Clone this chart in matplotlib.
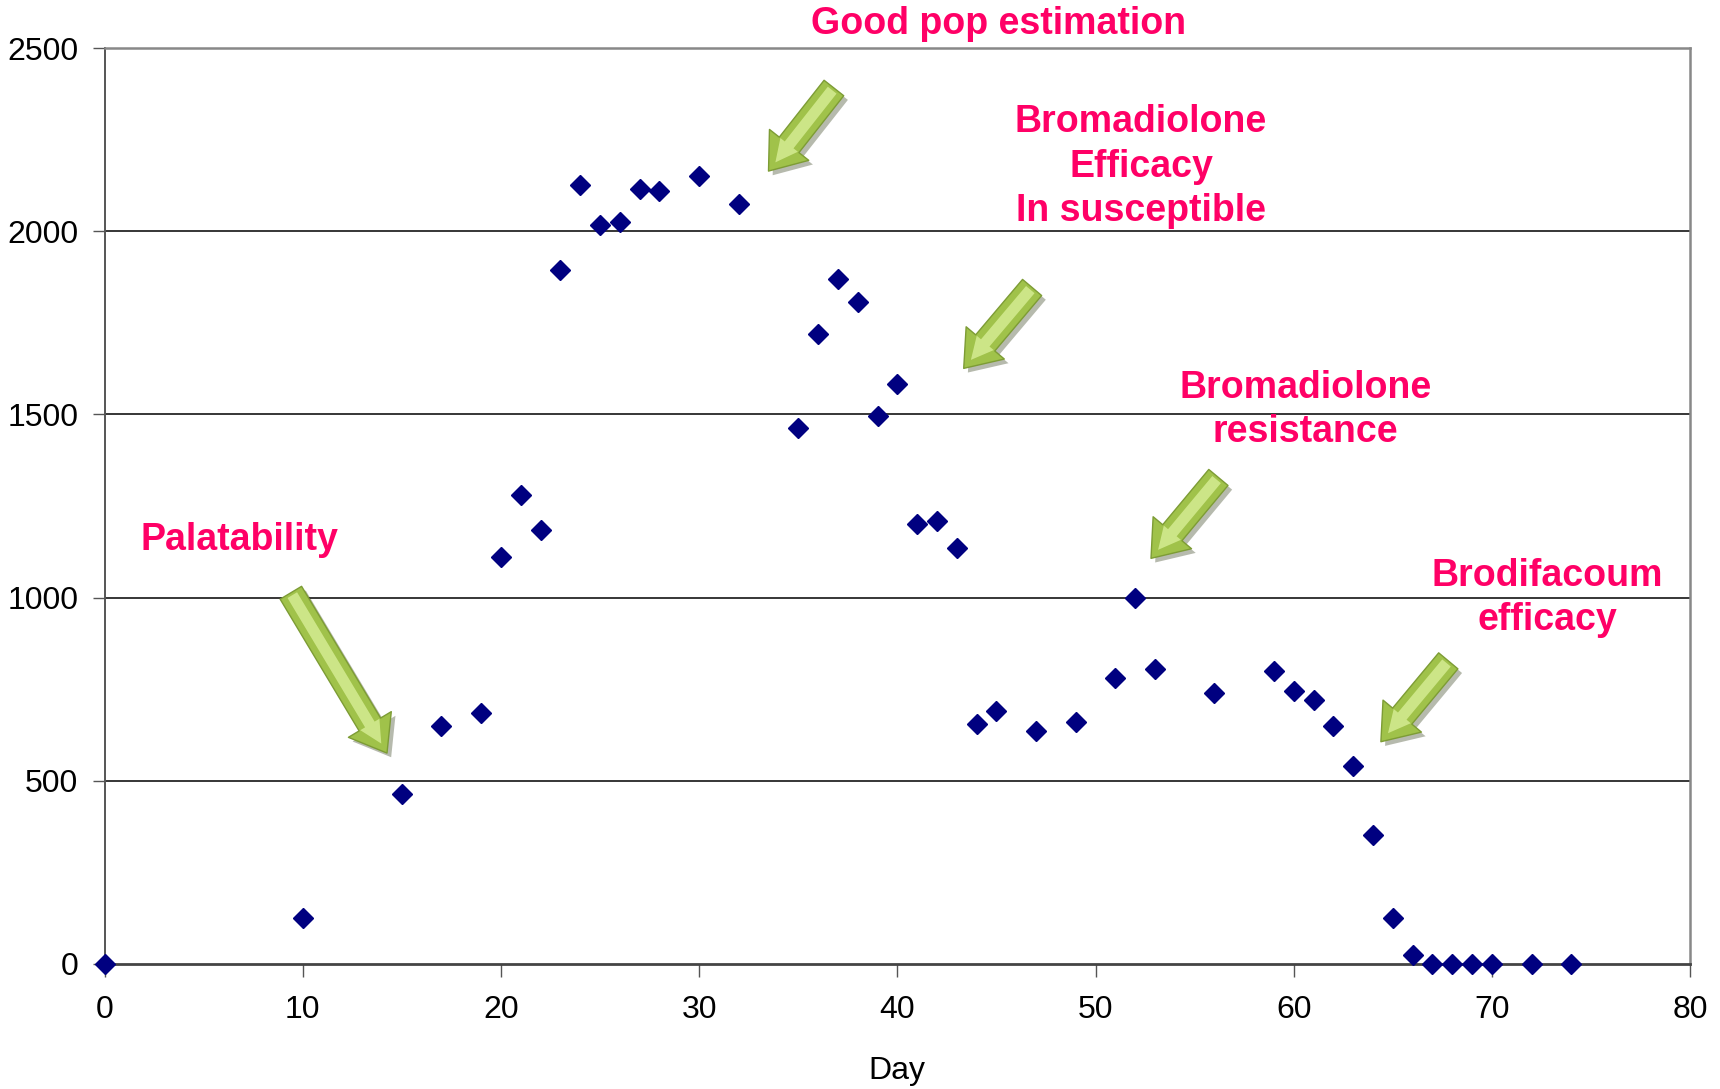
import matplotlib.pyplot as plt
import matplotlib.patheffects as pe

plt.rcParams['font.family'] = ['Liberation Sans', 'DejaVu Sans']

# data
day = [0, 10, 15, 17, 19, 20, 21, 22, 23, 24, 25, 26, 27, 28, 30, 32, 35, 36, 37, 38,
       39, 40, 41, 42, 43, 44, 45, 47, 49, 51, 52, 53, 56, 59, 60, 61, 62, 63, 64, 65,
       66, 67, 68, 69, 70, 72, 74]
count = [0, 125, 462, 650, 685, 1110, 1280, 1185, 1895, 2128, 2017, 2025, 2115, 2110, 2152, 2075,
         1463, 1720, 1870, 1808, 1495, 1582, 1200, 1208, 1135, 655, 690, 636, 660, 779, 1000, 806,
         740, 800, 745, 721, 650, 540, 351, 125, 24, 0, 0, 0, 0, 0, 0]

x_ticks = [0, 10, 20, 30, 40, 50, 60, 70, 80]
y_ticks = [0, 500, 1000, 1500, 2000, 2500]

labels = ['Good pop estimation', 'Bromadiolone\nEfficacy\nIn susceptible',
          'Bromadiolone\nresistance', 'Palatability', 'Brodifacoum\nefficacy']
label_pos = [(45.1, 2566), (52.3, 2177), (60.6, 1512), (6.8, 1157), (72.8, 998)]
# arrows: tail -> tip
arrows = [((9.4, 1013), (14.25, 575)),
          ((36.8, 2392), (33.5, 2165)),
          ((46.8, 1847), (43.35, 1626)),
          ((56.2, 1328), (52.8, 1107)),
          ((67.8, 827), (64.4, 606))]

fig = plt.figure(figsize=(17.2, 10.89), dpi=100)
ax = fig.add_axes([0.0608, 0.1152, 0.9218, 0.8403])

ax.set_xlim(0, 80)
ax.set_ylim(0, 2500)
ax.set_xticks(x_ticks)
ax.set_yticks(y_ticks)
ax.tick_params(axis='both', labelsize=23, direction='out', length=9, width=1, color='#555555')
ax.tick_params(axis='x', pad=14)
ax.tick_params(axis='y', pad=10)

for y in y_ticks[1:-1]:
    ax.axhline(y, color='black', lw=1.1, zorder=1)

ax.spines['top'].set_color('#888888')
ax.spines['top'].set_linewidth(1.8)
ax.spines['right'].set_color('#888888')
ax.spines['right'].set_linewidth(1.8)
ax.spines['left'].set_color('#555555')
ax.spines['left'].set_linewidth(1.4)
ax.spines['bottom'].set_color('#444444')
ax.spines['bottom'].set_linewidth(2)

ax.plot(day, count, linestyle='none', marker='D', markersize=10.5, color='#000080',
        clip_on=False, zorder=5)

ax.set_xlabel('Day', fontsize=23, labelpad=22)

for (tail, tip) in arrows:
    ax.annotate('', xy=tip, xytext=tail, annotation_clip=False,
                arrowprops=dict(arrowstyle='simple,head_length=2.4,head_width=3.6,tail_width=1.8',
                                mutation_scale=10, fc='#a0c24a', ec='#7d9c35', lw=1,
                                shrinkA=0, shrinkB=0,
                                path_effects=[pe.SimplePatchShadow(offset=(3, -3), alpha=0.35),
                                              pe.Normal()]),
                zorder=4)
    # lighter highlight down the middle
    ax.annotate('', xy=tip, xytext=tail, annotation_clip=False,
                arrowprops=dict(arrowstyle='simple,head_length=1.6,head_width=1.6,tail_width=0.8',
                                mutation_scale=10, fc='#d2ea8e', ec='none', lw=0,
                                shrinkA=2, shrinkB=8, alpha=0.9),
                zorder=4)

for txt, (x, y) in zip(labels, label_pos):
    ax.text(x, y, txt, ha='center', va='center', color='#ff0066', fontsize=27,
            fontweight='bold', linespacing=1.3, clip_on=False, zorder=6)

fig.savefig('out.png', dpi=100)
